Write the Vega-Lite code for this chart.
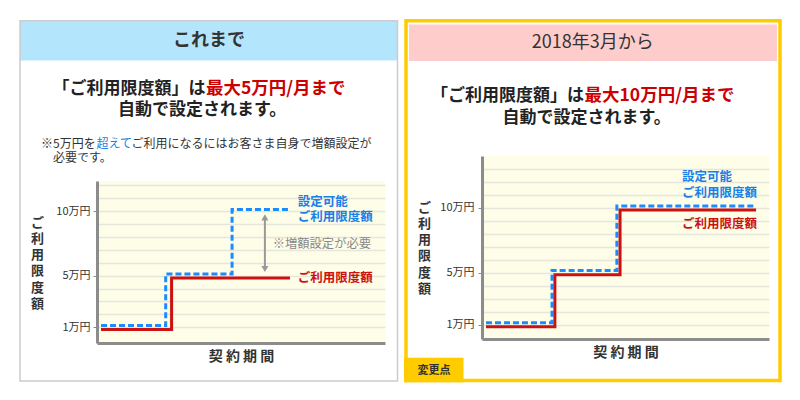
{
  "$schema": "https://vega.github.io/schema/vega-lite/v6.json",
  "background": "#ffffff",
  "padding": {"left": 19, "top": 18, "right": 5, "bottom": 5},
  "config": {"view": {"stroke": null}, "font": "Noto Sans CJK JP"},
  "spacing": 5,
  "datasets": {
    "before": [
      {"series": "設定可能ご利用限度額", "x": 1.4, "y": 1.13},
      {"series": "設定可能ご利用限度額", "x": 23.85, "y": 5.13},
      {"series": "設定可能ご利用限度額", "x": 46.9, "y": 10.13},
      {"series": "設定可能ご利用限度額", "x": 67, "y": 10.13},
      {"series": "ご利用限度額", "x": 1.4, "y": 0.82},
      {"series": "ご利用限度額", "x": 25.9, "y": 4.82},
      {"series": "ご利用限度額", "x": 67, "y": 4.82}
    ],
    "after": [
      {"series": "設定可能ご利用限度額", "x": 1.4, "y": 1.15},
      {"series": "設定可能ご利用限度額", "x": 24.4, "y": 5.18},
      {"series": "設定可能ご利用限度額", "x": 47, "y": 10.13},
      {"series": "設定可能ご利用限度額", "x": 95.5, "y": 10.13},
      {"series": "ご利用限度額", "x": 1.4, "y": 0.85},
      {"series": "ご利用限度額", "x": 25.4, "y": 4.85},
      {"series": "ご利用限度額", "x": 48.1, "y": 9.82},
      {"series": "ご利用限度額", "x": 95.5, "y": 9.82}
    ]
  },
  "hconcat": [
    {
      "bounds": "flush",
      "spacing": 0,
      "vconcat": [
        {
          "width": 288,
          "height": 160,
          "data": {"values": [{}]},
          "layer": [
            {
              "mark": {"type": "rect", "fill": "#b3e5fc"},
              "encoding": {
                "x": {"datum": -77, "type": "quantitative", "scale": {"domain": [0, 288], "nice": false, "zero": false}, "axis": null},
                "x2": {"datum": 300.5},
                "y": {"datum": 0, "type": "quantitative", "scale": {"domain": [0, 160], "reverse": true, "nice": false, "zero": false}, "axis": null},
                "y2": {"datum": 39.5}
              }
            },
            {
              "mark": {"type": "rect", "filled": false, "stroke": "#cccccc", "strokeWidth": 1.5},
              "encoding": {
                "x": {"datum": -77, "type": "quantitative"},
                "x2": {"datum": 300.5},
                "y": {"datum": -0.25, "type": "quantitative"},
                "y2": {"datum": 360}
              }
            },
            {
              "mark": {"type": "text", "text": "これまで", "fontSize": 18, "color": "#333333", "align": "center", "baseline": "middle", "fontWeight": "bold"},
              "encoding": {"x": {"datum": 112, "type": "quantitative"}, "y": {"datum": 20, "type": "quantitative"}}
            },
            {
              "mark": {"type": "text", "text": "「ご利用限度額」は", "fontSize": 17, "color": "#222222", "align": "right", "baseline": "middle", "fontWeight": "bold"},
              "encoding": {"x": {"datum": 108.5, "type": "quantitative"}, "y": {"datum": 68.3, "type": "quantitative"}}
            },
            {
              "mark": {"type": "text", "text": "最大5万円/月まで", "fontSize": 17.5, "color": "#cc0000", "align": "left", "baseline": "middle", "fontWeight": "bold"},
              "encoding": {"x": {"datum": 109, "type": "quantitative"}, "y": {"datum": 68.3, "type": "quantitative"}}
            },
            {
              "mark": {"type": "text", "text": "自動で設定されます。", "fontSize": 17, "color": "#222222", "align": "left", "baseline": "middle", "fontWeight": "bold"},
              "encoding": {"x": {"datum": 21, "type": "quantitative"}, "y": {"datum": 89, "type": "quantitative"}}
            },
            {
              "mark": {"type": "text", "text": "※5万円を", "fontSize": 12, "color": "#333333", "align": "left", "baseline": "middle"},
              "encoding": {"x": {"datum": -56, "type": "quantitative"}, "y": {"datum": 122.5, "type": "quantitative"}}
            },
            {
              "mark": {"type": "text", "text": "超えて", "fontSize": 12, "color": "#1e7fe0", "align": "left", "baseline": "middle"},
              "encoding": {"x": {"datum": -0.5, "type": "quantitative"}, "y": {"datum": 122.5, "type": "quantitative"}}
            },
            {
              "mark": {"type": "text", "text": "ご利用になるにはお客さま自身で増額設定が", "fontSize": 12, "color": "#333333", "align": "left", "baseline": "middle"},
              "encoding": {"x": {"datum": 34.5, "type": "quantitative"}, "y": {"datum": 122.5, "type": "quantitative"}}
            },
            {
              "mark": {"type": "text", "text": "必要です。", "fontSize": 12, "color": "#333333", "align": "left", "baseline": "middle"},
              "encoding": {"x": {"datum": -44, "type": "quantitative"}, "y": {"datum": 137, "type": "quantitative"}}
            }
          ]
        },
        {
          "width": 288,
          "height": 162,
          "view": {"fill": "#fdfde8", "stroke": null},
          "data": {"values": [{}]},
          "resolve": {"axis": {"y": "independent"}},
          "layer": [
            {
              "data": {"name": "before"},
              "mark": {"type": "line", "interpolate": "step-after", "strokeWidth": 3},
              "encoding": {
                "x": {
                  "field": "x", "type": "quantitative",
                  "scale": {"domain": [0, 100], "nice": false, "zero": false},
                  "axis": {"title": "契 約 期 間", "labels": false, "ticks": false, "grid": false, "domainColor": "#8c8c8c", "domainWidth": 3, "titleFontSize": 14, "titleFontWeight": "bold", "titleColor": "#333333", "titlePadding": 6}
                },
                "y": {
                  "field": "y", "type": "quantitative",
                  "scale": {"domain": [-0.22, 12.34], "nice": false, "zero": false},
                  "axis": {
                    "values": [1, 5, 10],
                    "labelExpr": "datum.value + '万円'",
                    "labelOverlap": false,
                    "grid": false,
                    "domainColor": "#8c8c8c", "domainWidth": 3,
                    "tickColor": "#8c8c8c", "tickSize": 4,
                    "labelFontSize": 11, "labelColor": "#333333", "labelPadding": 3,
                    "title": ["ご", "利", "用", "限", "度", "額"],
                    "titleAngle": 0, "titleAlign": "center", "titleBaseline": "top",
                    "titleX": -60, "titleY": 35, "titleFontSize": 13, "titleFontWeight": "bold", "titleColor": "#333333", "titleLineHeight": 16.3
                  }
                },
                "color": {"field": "series", "type": "nominal", "scale": {"domain": ["設定可能ご利用限度額", "ご利用限度額"], "range": ["#1a8cff", "#cc1111"]}, "legend": null},
                "strokeDash": {"field": "series", "type": "nominal", "scale": {"domain": ["設定可能ご利用限度額", "ご利用限度額"], "range": [[6, 3], [1, 0]]}, "legend": null}
              }
            },
            {
              "mark": {"type": "rule", "color": "#999999", "strokeWidth": 2},
              "encoding": {
                "x": {"datum": 58.3, "type": "quantitative"},
                "y": {"datum": 5.55, "type": "quantitative", "axis": {"orient": "right", "values": [1, 2, 3, 4, 5, 6, 7, 8, 9, 10, 11, 12], "grid": true, "gridColor": "#e6e6dc", "gridWidth": 1.5, "labels": false, "ticks": false, "domain": false, "title": null}},
                "y2": {"datum": 9.5}
              }
            },
            {
              "mark": {"type": "point", "shape": "triangle-up", "filled": true, "size": 50, "color": "#999999", "opacity": 1},
              "encoding": {"x": {"datum": 58.3, "type": "quantitative"}, "y": {"datum": 9.52, "type": "quantitative", "axis": null}}
            },
            {
              "mark": {"type": "point", "shape": "triangle-down", "filled": true, "size": 50, "color": "#999999", "opacity": 1},
              "encoding": {"x": {"datum": 58.3, "type": "quantitative"}, "y": {"datum": 5.52, "type": "quantitative", "axis": null}}
            },
            {
              "mark": {"type": "text", "text": "設定可能", "fontSize": 12.5, "color": "#1a7fe6", "align": "left", "baseline": "middle", "fontWeight": "bold"},
              "encoding": {"x": {"datum": 69.7, "type": "quantitative"}, "y": {"datum": 10.73, "type": "quantitative", "axis": null}}
            },
            {
              "mark": {"type": "text", "text": "ご利用限度額", "fontSize": 12.5, "color": "#1a7fe6", "align": "left", "baseline": "middle", "fontWeight": "bold"},
              "encoding": {"x": {"datum": 69.7, "type": "quantitative"}, "y": {"datum": 9.53, "type": "quantitative", "axis": null}}
            },
            {
              "mark": {"type": "text", "text": "※増額設定が必要", "fontSize": 12.3, "color": "#888888", "align": "left", "baseline": "middle"},
              "encoding": {"x": {"datum": 61, "type": "quantitative"}, "y": {"datum": 7.45, "type": "quantitative", "axis": null}}
            },
            {
              "mark": {"type": "text", "text": "ご利用限度額", "fontSize": 12.5, "color": "#cc1111", "align": "left", "baseline": "middle", "fontWeight": "bold"},
              "encoding": {"x": {"datum": 69.7, "type": "quantitative"}, "y": {"datum": 4.79, "type": "quantitative", "axis": null}}
            }
          ]
        }
      ]
    },
    {
      "bounds": "flush",
      "spacing": 0,
      "vconcat": [
        {
          "width": 287,
          "height": 135,
          "data": {"values": [{}]},
          "layer": [
            {
              "mark": {"type": "rect", "fill": "#ffcccc"},
              "encoding": {
                "x": {"datum": -73, "type": "quantitative", "scale": {"domain": [0, 287], "nice": false, "zero": false}, "axis": null},
                "x2": {"datum": 295},
                "y": {"datum": 3.5, "type": "quantitative", "scale": {"domain": [0, 135], "reverse": true, "nice": false, "zero": false}, "axis": null},
                "y2": {"datum": 40}
              }
            },
            {
              "mark": {"type": "rect", "filled": false, "stroke": "#ffcc00", "strokeWidth": 3.5},
              "encoding": {
                "x": {"datum": -76, "type": "quantitative"},
                "x2": {"datum": 298},
                "y": {"datum": -0.3, "type": "quantitative"},
                "y2": {"datum": 359.5}
              }
            },
            {
              "mark": {"type": "rect", "fill": "#ffcc00"},
              "encoding": {
                "x": {"datum": -78, "type": "quantitative"},
                "x2": {"datum": -18.5},
                "y": {"datum": 336.7, "type": "quantitative"},
                "y2": {"datum": 361.2}
              }
            },
            {
              "mark": {"type": "text", "text": "変更点", "fontSize": 11, "color": "#333333", "align": "center", "baseline": "middle", "fontWeight": "bold"},
              "encoding": {"x": {"datum": -48, "type": "quantitative"}, "y": {"datum": 349.5, "type": "quantitative"}}
            },
            {
              "mark": {"type": "text", "text": "2018年3月から", "fontSize": 18, "color": "#333333", "align": "center", "baseline": "middle"},
              "encoding": {"x": {"datum": 110.7, "type": "quantitative"}, "y": {"datum": 21.7, "type": "quantitative"}}
            },
            {
              "mark": {"type": "text", "text": "「ご利用限度額」は", "fontSize": 17, "color": "#222222", "align": "right", "baseline": "middle", "fontWeight": "bold"},
              "encoding": {"x": {"datum": 102, "type": "quantitative"}, "y": {"datum": 75, "type": "quantitative"}}
            },
            {
              "mark": {"type": "text", "text": "最大10万円/月まで", "fontSize": 17.5, "color": "#cc0000", "align": "left", "baseline": "middle", "fontWeight": "bold"},
              "encoding": {"x": {"datum": 102.5, "type": "quantitative"}, "y": {"datum": 75, "type": "quantitative"}}
            },
            {
              "mark": {"type": "text", "text": "自動で設定されます。", "fontSize": 17, "color": "#222222", "align": "left", "baseline": "middle", "fontWeight": "bold"},
              "encoding": {"x": {"datum": 20.5, "type": "quantitative"}, "y": {"datum": 97, "type": "quantitative"}}
            }
          ]
        },
        {
          "width": 287,
          "height": 183,
          "view": {"fill": "#fdfde8", "stroke": null},
          "data": {"values": [{}]},
          "resolve": {"axis": {"y": "independent"}},
          "layer": [
            {
              "data": {"name": "after"},
              "mark": {"type": "line", "interpolate": "step-after", "strokeWidth": 3},
              "encoding": {
                "x": {
                  "field": "x", "type": "quantitative",
                  "scale": {"domain": [0, 100], "nice": false, "zero": false},
                  "axis": {"title": "契 約 期 間", "labels": false, "ticks": false, "grid": false, "domainColor": "#8c8c8c", "domainWidth": 3, "titleFontSize": 14, "titleFontWeight": "bold", "titleColor": "#333333", "titlePadding": 6}
                },
                "y": {
                  "field": "y", "type": "quantitative",
                  "scale": {"domain": [-0.1, 13.98], "nice": false, "zero": false},
                  "axis": {
                    "values": [1, 5, 10],
                    "labelExpr": "datum.value + '万円'",
                    "labelOverlap": false,
                    "grid": false,
                    "domainColor": "#8c8c8c", "domainWidth": 3,
                    "tickColor": "#8c8c8c", "tickSize": 4,
                    "labelFontSize": 11, "labelColor": "#333333", "labelPadding": 4,
                    "title": ["ご", "利", "用", "限", "度", "額"],
                    "titleAngle": 0, "titleAlign": "center", "titleBaseline": "top",
                    "titleX": -58, "titleY": 45, "titleFontSize": 13, "titleFontWeight": "bold", "titleColor": "#333333", "titleLineHeight": 16.3
                  }
                },
                "color": {"field": "series", "type": "nominal", "scale": {"domain": ["設定可能ご利用限度額", "ご利用限度額"], "range": ["#1a8cff", "#cc1111"]}, "legend": null},
                "strokeDash": {"field": "series", "type": "nominal", "scale": {"domain": ["設定可能ご利用限度額", "ご利用限度額"], "range": [[6, 3], [1, 0]]}, "legend": null}
              }
            },
            {
              "mark": {"type": "text", "text": "設定可能", "fontSize": 12.5, "color": "#1a7fe6", "align": "left", "baseline": "middle", "fontWeight": "bold"},
              "encoding": {
                "x": {"datum": 69.7, "type": "quantitative"},
                "y": {"datum": 12.36, "type": "quantitative", "axis": {"orient": "right", "values": [1, 2, 3, 4, 5, 6, 7, 8, 9, 10, 11, 12, 13], "grid": true, "gridColor": "#e6e6dc", "gridWidth": 1.5, "labels": false, "ticks": false, "domain": false, "title": null}}
              }
            },
            {
              "mark": {"type": "text", "text": "ご利用限度額", "fontSize": 12.5, "color": "#1a7fe6", "align": "left", "baseline": "middle", "fontWeight": "bold"},
              "encoding": {"x": {"datum": 69.7, "type": "quantitative"}, "y": {"datum": 11.15, "type": "quantitative", "axis": null}}
            },
            {
              "mark": {"type": "text", "text": "ご利用限度額", "fontSize": 12.5, "color": "#cc1111", "align": "left", "baseline": "middle", "fontWeight": "bold"},
              "encoding": {"x": {"datum": 69.7, "type": "quantitative"}, "y": {"datum": 8.77, "type": "quantitative", "axis": null}}
            }
          ]
        }
      ]
    }
  ]
}
